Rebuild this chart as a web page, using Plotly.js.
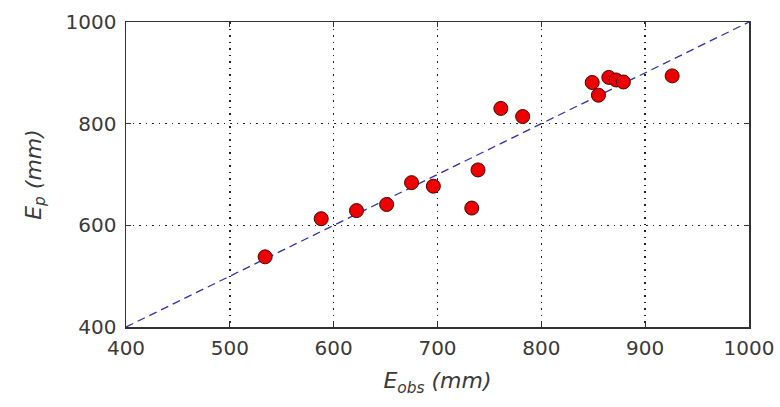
<!DOCTYPE html>
<html><head><meta charset="utf-8">
<script src="https://cdn.plot.ly/plotly-3.0.1.min.js"></script>
<style>html,body{margin:0;padding:0;background:#fff}#c{width:780px;height:407px}</style>
</head><body><div id="c"></div>
<script>
const eObs = [534, 588, 622, 651, 675, 696, 733, 739, 761, 782, 849, 855, 865, 872, 879, 926];
const eP   = [538, 613, 629, 641, 684, 677, 634, 709, 830, 814, 881, 856, 891, 886, 882, 894];
const lineX = [400, 1000];
const lineY = [400, 1000];
const tickVals = [400, 500, 600, 700, 800, 900, 1000];
const yTickVals = [400, 600, 800, 1000];

const tickFont = {family: 'DejaVu Sans, sans-serif', size: 20, color: '#3a3a3a'};
const titleFont = {family: 'DejaVu Sans, sans-serif', size: 22, color: '#3a3a3a'};
Plotly.newPlot('c', [
  {x: lineX, y: lineY, mode: 'lines', line: {color: '#3030b0', width: 1.3, dash: '8px,5px'}, hoverinfo: 'skip'},
  {x: eObs, y: eP, mode: 'markers', marker: {color: '#ee0000', size: 14, line: {color: '#4a0000', width: 1}}}
], {
  width: 780, height: 407,
  margin: {l: 126, r: 31, t: 22, b: 80},
  showlegend: false,
  paper_bgcolor: '#fff', plot_bgcolor: '#fff',
  xaxis: {range: [400, 1000], tickvals: tickVals, showgrid: true, gridcolor: '#222', griddash: '1.5px,5px', gridwidth: 1.5,
    zeroline: false, showline: true, mirror: 'ticks', linecolor: '#333', linewidth: 1.5,
    ticks: 'inside', ticklen: 5, tickcolor: '#333', tickfont: tickFont, ticklabelstandoff: 2,
    title: {text: '<i>E<sub>obs</sub> (mm)</i>', font: titleFont, standoff: 14}},
  yaxis: {range: [400, 1000], tickvals: yTickVals, showgrid: true, gridcolor: '#222', griddash: '1.5px,5px', gridwidth: 1.5,
    zeroline: false, showline: true, mirror: 'ticks', linecolor: '#333', linewidth: 1.5,
    ticks: 'inside', ticklen: 5, tickcolor: '#333', tickfont: tickFont, ticklabelstandoff: 4,
    title: {text: '<i>E<sub>p</sub> (mm)</i>', font: titleFont, standoff: 18}}
}, {displayModeBar: false, staticPlot: true});
</script></body></html>
